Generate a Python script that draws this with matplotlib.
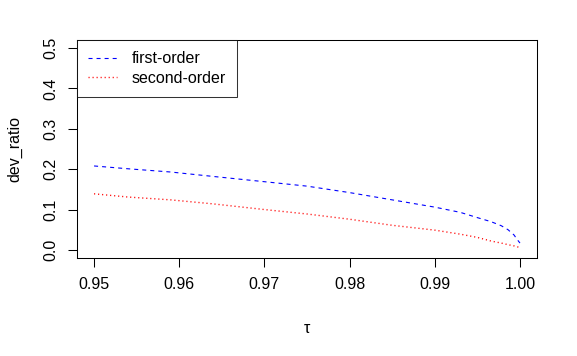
import matplotlib
matplotlib.use('Agg')
from matplotlib import pyplot as plt

plt.rcParams['font.family'] = ['Liberation Sans', 'DejaVu Sans']
plt.rcParams['lines.scale_dashes'] = False

tau = [0.950, 0.954, 0.959, 0.964, 0.970, 0.975, 0.980, 0.985, 0.990,
       0.993, 0.995, 0.9966, 0.9978, 0.9986, 0.9993, 0.9997, 1.000]
first_order = [0.208, 0.201, 0.193, 0.182, 0.169, 0.158, 0.142, 0.124, 0.106,
               0.093, 0.080, 0.070, 0.060, 0.050, 0.037, 0.025, 0.017]
second_order = [0.139, 0.131, 0.124, 0.114, 0.100, 0.089, 0.076, 0.061, 0.049,
                0.039, 0.031, 0.022, 0.017, 0.013, 0.010, 0.0075, 0.007]

x_ticks = [0.95, 0.96, 0.97, 0.98, 0.99, 1.00]
y_ticks = [0.0, 0.1, 0.2, 0.3, 0.4, 0.5]

fig = plt.figure(figsize=(5.77, 3.56), dpi=100)
ax = fig.add_axes([0.1335, 0.2753, 0.7972, 0.6123])

ax.plot(tau, first_order, color='blue', lw=0.8, linestyle=(0, (2.9, 2.9)), label='first-order')
ax.plot(tau, second_order, color='red', lw=1.0, linestyle=(0, (0.8, 2.1)), label='second-order')

ax.set_xlim(0.948, 1.002)
ax.set_ylim(-0.02, 0.52)
ax.set_xticks(x_ticks)
ax.set_xticklabels(['%.2f' % v for v in x_ticks])
ax.set_yticks(y_ticks)
ax.set_yticklabels(['%.1f' % v for v in y_ticks], rotation=90, va='center')
ax.tick_params(axis='both', direction='out', length=6.5, width=0.75, labelsize=11.5, pad=7)
for s in ax.spines.values():
    s.set_linewidth(0.75)

ax.set_xlabel('τ', fontsize=11.5, labelpad=21)
ax.set_ylabel('dev_ratio', fontsize=11.5, labelpad=15)

leg = ax.legend(loc='upper left', borderaxespad=0, fancybox=False, edgecolor='black',
                fontsize=11.5, handlelength=1.8, handletextpad=0.9, borderpad=0.7,
                labelspacing=0.3)
leg.get_frame().set_linewidth(0.75)

fig.savefig('out.png', dpi=100)
